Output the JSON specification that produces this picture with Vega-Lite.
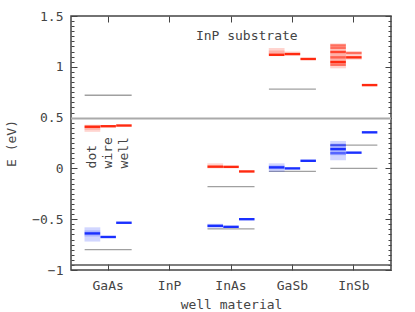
{
  "$schema": "https://vega.github.io/schema/vega-lite/v6.json",
  "width": 320,
  "height": 254,
  "autosize": "none",
  "padding": {"left": 71, "top": 16, "right": 24, "bottom": 42},
  "background": "white",
  "config": {
    "view": {"stroke": "#444", "strokeWidth": 1.5},
    "font": "DejaVu Sans Mono",
    "axis": {"grid": false, "labelFont": "DejaVu Sans Mono", "titleFont": "DejaVu Sans Mono", "labelFontSize": 13, "titleFontSize": 13, "titleFontWeight": "normal", "labelColor": "#444", "titleColor": "#444", "tickColor": "#444", "domain": false}
  },
  "datasets": {
    "edges": [
      {"mat": "GaAs", "e": 0.72}, {"mat": "GaAs", "e": -0.8},
      {"mat": "InAs", "e": -0.18}, {"mat": "InAs", "e": -0.595},
      {"mat": "GaSb", "e": 0.78}, {"mat": "GaSb", "e": -0.03},
      {"mat": "InSb", "e": 0.23}, {"mat": "InSb", "e": 0.0}
    ],
    "fuzz": [
      {"mat": "GaAs", "kind": "dot", "band": "c", "lo": 0.36, "hi": 0.43},
      {"mat": "GaAs", "kind": "dot", "band": "c", "lo": 0.38, "hi": 0.42},
      {"mat": "GaAs", "kind": "dot", "band": "v", "lo": -0.72, "hi": -0.58},
      {"mat": "GaAs", "kind": "dot", "band": "v", "lo": -0.67, "hi": -0.61},
      {"mat": "InAs", "kind": "dot", "band": "c", "lo": 0.0, "hi": 0.05},
      {"mat": "InAs", "kind": "wire", "band": "c", "lo": 0.008, "hi": 0.025},
      {"mat": "InAs", "kind": "dot", "band": "v", "lo": -0.59, "hi": -0.545},
      {"mat": "GaSb", "kind": "dot", "band": "c", "lo": 1.105, "hi": 1.185},
      {"mat": "GaSb", "kind": "dot", "band": "c", "lo": 1.12, "hi": 1.16},
      {"mat": "GaSb", "kind": "wire", "band": "c", "lo": 1.115, "hi": 1.15},
      {"mat": "GaSb", "kind": "dot", "band": "v", "lo": -0.035, "hi": 0.05},
      {"mat": "GaSb", "kind": "dot", "band": "v", "lo": -0.01, "hi": 0.03},
      {"mat": "InSb", "kind": "dot", "band": "c", "lo": 0.985, "hi": 1.23},
      {"mat": "InSb", "kind": "dot", "band": "c", "lo": 1.03, "hi": 1.16},
      {"mat": "InSb", "kind": "wire", "band": "c", "lo": 1.07, "hi": 1.15},
      {"mat": "InSb", "kind": "dot", "band": "v", "lo": 0.08, "hi": 0.27},
      {"mat": "InSb", "kind": "dot", "band": "v", "lo": 0.13, "hi": 0.23}
    ],
    "levels": [
      {"mat": "GaAs", "kind": "dot", "band": "c", "e": 0.41, "s": "main"},
      {"mat": "GaAs", "kind": "wire", "band": "c", "e": 0.415, "s": "main"},
      {"mat": "GaAs", "kind": "well", "band": "c", "e": 0.422, "s": "main"},
      {"mat": "GaAs", "kind": "dot", "band": "v", "e": -0.64, "s": "main"},
      {"mat": "GaAs", "kind": "wire", "band": "v", "e": -0.675, "s": "main"},
      {"mat": "GaAs", "kind": "well", "band": "v", "e": -0.535, "s": "main"},
      {"mat": "InAs", "kind": "dot", "band": "c", "e": 0.017, "s": "main"},
      {"mat": "InAs", "kind": "wire", "band": "c", "e": 0.015, "s": "main"},
      {"mat": "InAs", "kind": "well", "band": "c", "e": -0.03, "s": "main"},
      {"mat": "InAs", "kind": "dot", "band": "v", "e": -0.565, "s": "main"},
      {"mat": "InAs", "kind": "wire", "band": "v", "e": -0.575, "s": "main"},
      {"mat": "InAs", "kind": "well", "band": "v", "e": -0.5, "s": "main"},
      {"mat": "GaSb", "kind": "dot", "band": "c", "e": 1.118, "s": "main"},
      {"mat": "GaSb", "kind": "wire", "band": "c", "e": 1.125, "s": "main"},
      {"mat": "GaSb", "kind": "well", "band": "c", "e": 1.077, "s": "main"},
      {"mat": "GaSb", "kind": "dot", "band": "v", "e": 0.01, "s": "main"},
      {"mat": "GaSb", "kind": "wire", "band": "v", "e": 0.0, "s": "main"},
      {"mat": "GaSb", "kind": "well", "band": "v", "e": 0.075, "s": "main"},
      {"mat": "InSb", "kind": "dot", "band": "c", "e": 1.21, "s": "faint"},
      {"mat": "InSb", "kind": "dot", "band": "c", "e": 1.185, "s": "faint"},
      {"mat": "InSb", "kind": "dot", "band": "c", "e": 1.146, "s": "mid"},
      {"mat": "InSb", "kind": "dot", "band": "c", "e": 1.093, "s": "faint"},
      {"mat": "InSb", "kind": "dot", "band": "c", "e": 1.047, "s": "main"},
      {"mat": "InSb", "kind": "dot", "band": "c", "e": 1.02, "s": "faint"},
      {"mat": "InSb", "kind": "wire", "band": "c", "e": 1.136, "s": "faint"},
      {"mat": "InSb", "kind": "wire", "band": "c", "e": 1.093, "s": "main"},
      {"mat": "InSb", "kind": "well", "band": "c", "e": 0.82, "s": "main"},
      {"mat": "InSb", "kind": "dot", "band": "v", "e": 0.23, "s": "faint"},
      {"mat": "InSb", "kind": "dot", "band": "v", "e": 0.19, "s": "main"},
      {"mat": "InSb", "kind": "dot", "band": "v", "e": 0.15, "s": "faint"},
      {"mat": "InSb", "kind": "wire", "band": "v", "e": 0.155, "s": "main"},
      {"mat": "InSb", "kind": "well", "band": "v", "e": 0.355, "s": "main"}
    ],
    "kinds": [
      {"mat": "GaAs", "kind": "dot", "e": 0.0},
      {"mat": "GaAs", "kind": "wire", "e": 0.0},
      {"mat": "GaAs", "kind": "well", "e": 0.0}
    ],
    "title": [{"mat": "InAs", "kind": "well", "e": 1.3, "label": "InP substrate"}],
    "substrate": [{"e": 0.49}],
    "floor": [{"e": -0.95}]
  },
  "resolve": {"axis": {"x": "independent", "y": "independent"}},
  "layer": [
    {
      "data": {"name": "substrate"},
      "mark": {"type": "rule", "color": "#aaa", "strokeWidth": 2},
      "encoding": {
        "y": {"field": "e", "type": "quantitative", "scale": {"domain": [-1, 1.5], "nice": false, "zero": false},
              "axis": {"orient": "left", "values": [-1, -0.5, 0, 0.5, 1, 1.5], "format": "~g", "ticks": false, "labelPadding": 8, "title": "E (eV)", "titlePadding": 13}}
      }
    },
    {
      "data": {"name": "floor"},
      "mark": {"type": "rule", "color": "#555", "strokeWidth": 1.5},
      "encoding": {
        "y": {"field": "e", "type": "quantitative", "scale": {"domain": [-1, 1.5], "nice": false, "zero": false},
              "axis": {"orient": "left", "values": [-1, -0.5, 0, 0.5, 1, 1.5], "labels": false, "tickSize": -6, "title": null}}
      }
    },
    {
      "data": {"name": "edges"},
      "mark": {"type": "tick", "color": "#777", "thickness": 1.3, "size": 47},
      "encoding": {
        "x": {"field": "mat", "type": "nominal", "sort": null, "scale": {"domain": ["GaAs", "InP", "InAs", "GaSb", "InSb"], "paddingInner": 0.23, "paddingOuter": 0.22},
              "axis": {"orient": "bottom", "ticks": false, "labelAngle": 0, "labelPadding": 9, "title": "well material", "titlePadding": 6}},
        "y": {"field": "e", "type": "quantitative", "scale": {"domain": [-1, 1.5], "nice": false, "zero": false},
              "axis": {"orient": "left", "values": [-1, -0.95, -0.9, -0.85, -0.8, -0.75, -0.7, -0.65, -0.6, -0.55, -0.5, -0.45, -0.4, -0.35, -0.3, -0.25, -0.2, -0.15, -0.1, -0.05, 0, 0.05, 0.1, 0.15, 0.2, 0.25, 0.3, 0.35, 0.4, 0.45, 0.5, 0.55, 0.6, 0.65, 0.7, 0.75, 0.8, 0.85, 0.9, 0.95, 1, 1.05, 1.1, 1.15, 1.2, 1.25, 1.3, 1.35, 1.4, 1.45, 1.5], "labels": false, "tickSize": -3, "title": null}}
      }
    },
    {
      "data": {"name": "fuzz"},
      "mark": {"type": "bar", "opacity": 0.2},
      "encoding": {
        "x": {"field": "mat", "type": "nominal", "sort": null, "scale": {"domain": ["GaAs", "InP", "InAs", "GaSb", "InSb"], "paddingInner": 0.23, "paddingOuter": 0.22},
              "axis": {"orient": "bottom", "labels": false, "tickSize": -6, "title": null}},
        "xOffset": {"field": "kind", "type": "nominal", "scale": {"domain": ["dot", "wire", "well"], "paddingInner": 0, "paddingOuter": 0}},
        "y": {"field": "lo", "type": "quantitative", "scale": {"domain": [-1, 1.5], "nice": false, "zero": false},
              "axis": {"orient": "right", "values": [-1, -0.5, 0, 0.5, 1, 1.5], "labels": false, "tickSize": -6, "title": null}},
        "y2": {"field": "hi"},
        "color": {"field": "band", "type": "nominal", "scale": {"domain": ["c", "v"], "range": ["#ff2a10", "#1a30ff"]}, "legend": null}
      }
    },
    {
      "data": {"name": "levels"},
      "mark": {"type": "tick", "thickness": 2.4, "size": 15.5},
      "encoding": {
        "x": {"field": "mat", "type": "nominal", "sort": null, "scale": {"domain": ["GaAs", "InP", "InAs", "GaSb", "InSb"], "paddingInner": 0.23, "paddingOuter": 0.22},
              "axis": {"orient": "top", "labels": false, "tickSize": -6, "title": null}},
        "xOffset": {"field": "kind", "type": "nominal", "scale": {"domain": ["dot", "wire", "well"], "paddingInner": 0, "paddingOuter": 0}},
        "y": {"field": "e", "type": "quantitative", "scale": {"domain": [-1, 1.5], "nice": false, "zero": false},
              "axis": {"orient": "right", "values": [-1, -0.95, -0.9, -0.85, -0.8, -0.75, -0.7, -0.65, -0.6, -0.55, -0.5, -0.45, -0.4, -0.35, -0.3, -0.25, -0.2, -0.15, -0.1, -0.05, 0, 0.05, 0.1, 0.15, 0.2, 0.25, 0.3, 0.35, 0.4, 0.45, 0.5, 0.55, 0.6, 0.65, 0.7, 0.75, 0.8, 0.85, 0.9, 0.95, 1, 1.05, 1.1, 1.15, 1.2, 1.25, 1.3, 1.35, 1.4, 1.45, 1.5], "labels": false, "tickSize": -3, "title": null}},
        "color": {"field": "band", "type": "nominal", "scale": {"domain": ["c", "v"], "range": ["#ff2a10", "#1a30ff"]}, "legend": null},
        "opacity": {"field": "s", "type": "nominal", "scale": {"domain": ["main", "mid", "faint"], "range": [1, 0.6, 0.3]}, "legend": null}
      }
    },
    {
      "data": {"name": "kinds"},
      "mark": {"type": "text", "angle": 270, "align": "left", "baseline": "middle", "fontSize": 13, "color": "#444", "font": "DejaVu Sans Mono"},
      "encoding": {
        "x": {"field": "mat", "type": "nominal", "sort": null, "scale": {"domain": ["GaAs", "InP", "InAs", "GaSb", "InSb"], "paddingInner": 0.23, "paddingOuter": 0.22}, "axis": null},
        "xOffset": {"field": "kind", "type": "nominal", "scale": {"domain": ["dot", "wire", "well"], "paddingInner": 0, "paddingOuter": 0}},
        "y": {"field": "e", "type": "quantitative", "scale": {"domain": [-1, 1.5], "nice": false, "zero": false}, "axis": null},
        "text": {"field": "kind"}
      }
    },
    {
      "data": {"name": "title"},
      "mark": {"type": "text", "align": "center", "baseline": "middle", "fontSize": 13, "color": "#444", "font": "DejaVu Sans Mono"},
      "encoding": {
        "x": {"field": "mat", "type": "nominal", "sort": null, "scale": {"domain": ["GaAs", "InP", "InAs", "GaSb", "InSb"], "paddingInner": 0.23, "paddingOuter": 0.22}, "axis": null},
        "xOffset": {"field": "kind", "type": "nominal", "scale": {"domain": ["dot", "wire", "well"], "paddingInner": 0, "paddingOuter": 0}},
        "y": {"field": "e", "type": "quantitative", "scale": {"domain": [-1, 1.5], "nice": false, "zero": false}, "axis": null},
        "text": {"field": "label"}
      }
    }
  ]
}
